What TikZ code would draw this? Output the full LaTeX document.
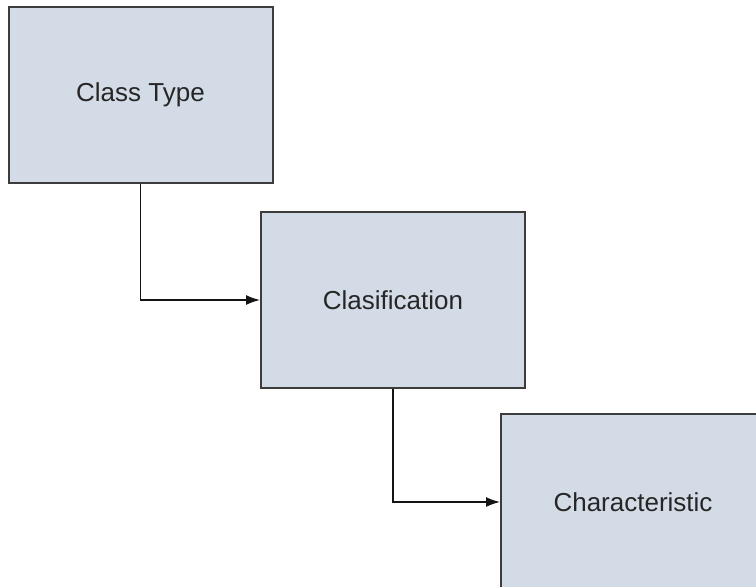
\documentclass[tikz,border=0pt]{standalone}
\usepackage{fontspec}
\setmainfont{Liberation Sans}
\usetikzlibrary{arrows.meta}
\definecolor{boxfill}{RGB}{211,220,230}
\definecolor{boxline}{RGB}{60,60,60}
\definecolor{linkline}{RGB}{20,20,20}
\begin{document}
\begin{tikzpicture}[x=1pt,y=-1pt,
  entity/.style={draw=boxline,fill=boxfill,line width=2pt,minimum width=264pt,minimum height=176pt,inner sep=0pt,text=black!85,font=\fontsize{26}{30}\selectfont},
  link/.style={draw=linkline,line width=1.5pt,-{Latex[length=14pt,width=10pt]}}]
\useasboundingbox (0,0) rectangle (756,587);
\clip (0,0) rectangle (756,587);
\node[entity] (a) at (140.5,95) {Class Type};
\node[entity] (b) at (393,300) {Clasification};
\node[entity] (c) at (633,502) {Characteristic};
\draw[link] (a.south) |- (b.west);
\draw[link] (b.south) |- (c.west);
\end{tikzpicture}
\end{document}
